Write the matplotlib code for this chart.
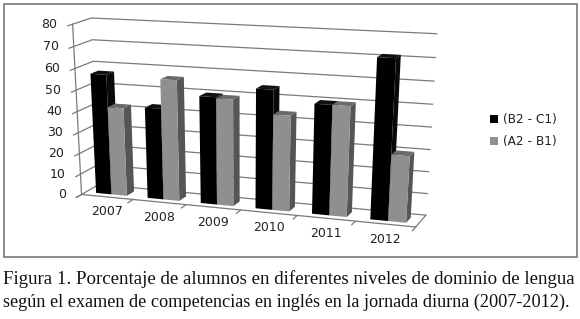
import numpy as np
import matplotlib
matplotlib.use('Agg')
import matplotlib.pyplot as plt
from matplotlib.patches import Polygon, Rectangle, Patch

#Chart values
years = ['2007', '2008', '2009', '2010', '2011', '2012']
b2_c1 = [57, 43, 50, 55, 50, 71.5]
a2_b1 = [42, 56.5, 49.5, 44, 50, 30]
y_ticks = [0, 10, 20, 30, 40, 50, 60, 70, 80]
legend_names = ['(B2 - C1)', '(A2 - B1)']
caption_1 = 'Figura 1. Porcentaje de alumnos en diferentes niveles de dominio de lengua'
caption_2 = 'según el examen de competencias en inglés en la jornada diurna (2007-2012).'

W, H = 580, 319
GRID = '#7a7a7a'

#Camera for the fake 3D box, fitted on the box corners (col, value, depth) -> pixel
corners = [((0, 0, 0), (82, 193)), ((0, 80, 0), (72, 23)),
           ((0, 0, 1), (98.5, 186)), ((0, 80, 1), (92, 19)),
           ((6, 0, 0), (416, 228)), ((6, 80, 0), (426, 43)),
           ((6, 0, 1), (425.7, 214)), ((6, 80, 1), (437, 32))]

rows = []
rhs = []
for (c, v, d), (px, py) in corners:
    rows.append([c, v, d, 1, 0, 0, 0, 0, -px * c, -px * v, -px * d])
    rhs.append(px)
    rows.append([0, 0, 0, 0, c, v, d, 1, -py * c, -py * v, -py * d])
    rhs.append(py)
cam = np.linalg.lstsq(np.array(rows, float), np.array(rhs, float), rcond=None)[0]
cam = np.append(cam, 1).reshape(3, 4)


def proj(c, v, d):
    p = cam @ np.array([c, v, d, 1.0])
    return p[0] / p[2], p[1] / p[2]


def draw_bar(ax, c0, c1, val, d0, d1, front, side, top, zorder):
    ax.add_patch(Polygon([proj(c1, 0, d0), proj(c1, 0, d1), proj(c1, val, d1), proj(c1, val, d0)],
                         fc=side, ec='none', zorder=zorder))
    ax.add_patch(Polygon([proj(c0, val, d0), proj(c1, val, d0), proj(c1, val, d1), proj(c0, val, d1)],
                         fc=top, ec='none', zorder=zorder))
    ax.add_patch(Polygon([proj(c0, 0, d0), proj(c1, 0, d0), proj(c1, val, d0), proj(c0, val, d0)],
                         fc=front, ec='none', zorder=zorder))


fig = plt.figure(figsize=(W / 100, H / 100), dpi=100)
ax = fig.add_axes([0, 0, 1, 1])
ax.set_xlim(0, W)
ax.set_ylim(H, 0)
ax.axis('off')

#Outer frame
ax.add_patch(Rectangle((3.5, 4), 573, 253, fc='white', ec='#8a8a8a', lw=1.4))

#Walls and floor lines
for t in y_ticks:
    a, b, c = proj(0, t, -0.25), proj(0, t, 0), proj(0, t, 1)
    d = proj(6, t, 1)
    ax.plot([a[0], b[0], c[0], d[0]], [a[1], b[1], c[1], d[1]], color=GRID, lw=0.9, zorder=1)
    ax.text(b[0] - 15, b[1], str(t), ha='right', va='center', fontsize=9, color='#222222')

a, b = proj(0, 0, 0), proj(0, 80, 0)
ax.plot([a[0], b[0]], [a[1], b[1]], color=GRID, lw=0.9, zorder=1)
a, b = proj(0, 0, 0), proj(6, 0, 0)
ax.plot([a[0], b[0]], [a[1], b[1]], color=GRID, lw=0.9, zorder=1)
a, b = proj(6, 0, 0), proj(6, 0, 1)
ax.plot([a[0], b[0]], [a[1], b[1]], color=GRID, lw=0.9, zorder=1)

#Ticks and year labels
for i in range(7):
    a, b = proj(i, 0, 0), proj(i, 0, -0.3)
    ax.plot([a[0], b[0]], [a[1], b[1]], color=GRID, lw=0.9, zorder=1)
for i, year in enumerate(years):
    a = proj(i + 0.5, 0, 0)
    ax.text(a[0], a[1] + 15, year, ha='center', va='center', fontsize=9, color='#222222')

#Bars
for i in range(len(years)):
    draw_bar(ax, i + 0.2, i + 0.5, b2_c1[i], 0.25, 0.68, '#000000', '#0a0a0a', '#111111', 3 + 2 * i)
    draw_bar(ax, i + 0.5, i + 0.8, a2_b1[i], 0.25, 0.68, '#8f8f8f', '#555555', '#6a6a6a', 4 + 2 * i)

#Legend
handles = [Patch(fc='#000000', ec='none', label=legend_names[0]),
           Patch(fc='#8f8f8f', ec='none', label=legend_names[1])]
ax.legend(handles=handles, loc='center left', bbox_to_anchor=(490, 130.5), bbox_transform=ax.transData,
          frameon=False, fontsize=8.7, handlelength=0.66, handleheight=0.66, handletextpad=0.4,
          labelspacing=0.75, borderpad=0, borderaxespad=0, labelcolor='#222222')

#Caption
ax.text(3, 279, caption_1, ha='left', va='center', fontsize=13.6, family='Liberation Serif', color='#111111')
ax.text(3, 302, caption_2, ha='left', va='center', fontsize=13.15, family='Liberation Serif', color='#111111')

fig.savefig('out.png', dpi=100)
